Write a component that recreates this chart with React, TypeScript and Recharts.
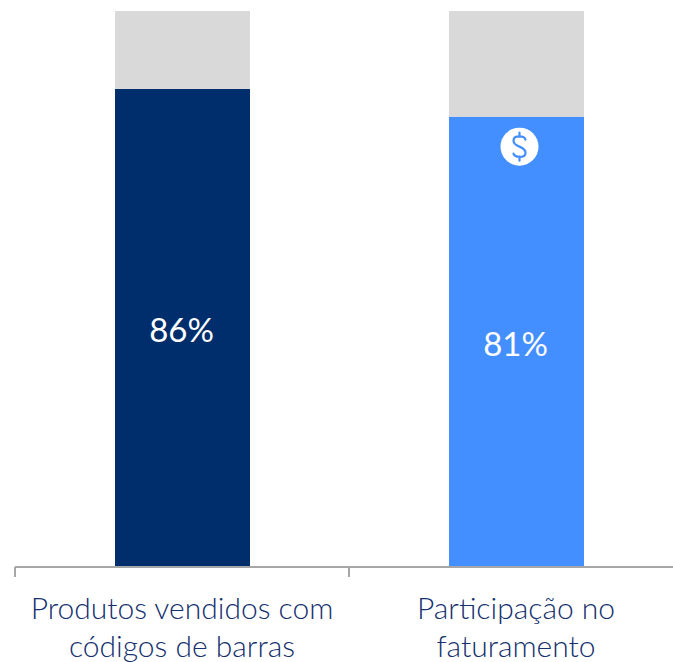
import { BarChart, Bar, XAxis, YAxis, LabelList } from 'recharts';

const categories = ['Produtos vendidos com|códigos de barras', 'Participação no|faturamento'];
const shareValues = [86, 81];
const restValues = [14, 19];
const barColors = ['#002D6B', '#448FFF'];
const iconCategory = 'Participação no|faturamento';

const data = categories.map((name, i) => ({ name, share: shareValues[i], rest: restValues[i] }));

const FONT = 'Lato, sans-serif';
const TEXT_COLOR = '#14306E';
const AXIS_COLOR = '#A6A6A6';
const BAND = 334;

// tick marks sit on the band edges, not on the band centre
function CategoryTick({ x, y, payload }: any) {
  const lines = String(payload.value).split('|');
  return (
    <g>
      <line x1={x - BAND / 2} x2={x - BAND / 2} y1={y - 8} y2={y + 2} stroke={AXIS_COLOR} strokeWidth={2} />
      <line x1={x + BAND / 2} x2={x + BAND / 2} y1={y - 8} y2={y + 2} stroke={AXIS_COLOR} strokeWidth={2} />
      <text x={x} y={y + 44} textAnchor="middle" fontFamily={FONT} fontWeight={300} fontSize={30} fill={TEXT_COLOR}>
        {lines.map((line, i) => (
          <tspan key={i} x={x} dy={i === 0 ? 0 : 38}>{line}</tspan>
        ))}
      </text>
    </g>
  );
}

// dollar badge near the top of the second bar
function DollarBadge({ x, y, width, value }: any) {
  if (value !== iconCategory) return null;
  const cx = x + width / 2 + 3;
  const cy = y + 30;
  return (
    <g>
      <circle cx={cx} cy={cy} r={19} fill="#FFFFFF" />
      <path
        d={`M${cx + 6} ${cy - 7} C${cx + 5} ${cy - 11} ${cx - 6} ${cy - 12} ${cx - 6} ${cy - 6} C${cx - 6} ${cy + 1} ${cx + 6} ${cy - 1} ${cx + 6} ${cy + 6} C${cx + 6} ${cy + 12} ${cx - 5} ${cy + 11} ${cx - 6} ${cy + 7} M${cx} ${cy - 14} L${cx} ${cy - 10} M${cx} ${cy + 10} L${cx} ${cy + 14}`}
        fill="none"
        stroke="#448FFF"
        strokeWidth={2.2}
        strokeLinecap="round"
      />
    </g>
  );
}

export default function App() {
  return (
    <div style={{ position: 'absolute', left: 0, top: 0, width: 673, height: 662, overflow: 'hidden' }}>
      <BarChart
        width={700}
        height={662}
        data={data}
        margin={{ top: 11, right: 17, bottom: 0, left: 15 }}
        barCategoryGap={0}
      >
        <XAxis
          dataKey="name"
          height={95}
          interval={0}
          axisLine={{ stroke: AXIS_COLOR, strokeWidth: 2 }}
          tickLine={false}
          tick={<CategoryTick />}
        />
        <YAxis hide domain={[0, 100]} />
        <Bar dataKey="share" stackId="a" barSize={135} isAnimationActive={false} fill={barColors[0]}
          shape={(props: any) => (
            <rect x={props.x} y={props.y} width={props.width} height={props.height} fill={barColors[props.index]} />
          )}
        >
          <LabelList
            dataKey="share"
            position="center"
            formatter={(v: any) => `${v}%`}
            fill="#FFFFFF"
            fontFamily={FONT}
            fontSize={33}
            dy={2}
            dx={-1}
          />
          <LabelList dataKey="name" content={<DollarBadge />} />
        </Bar>
        <Bar dataKey="rest" stackId="a" barSize={135} isAnimationActive={false} fill="#D9D9D9" />
      </BarChart>
    </div>
  );
}
